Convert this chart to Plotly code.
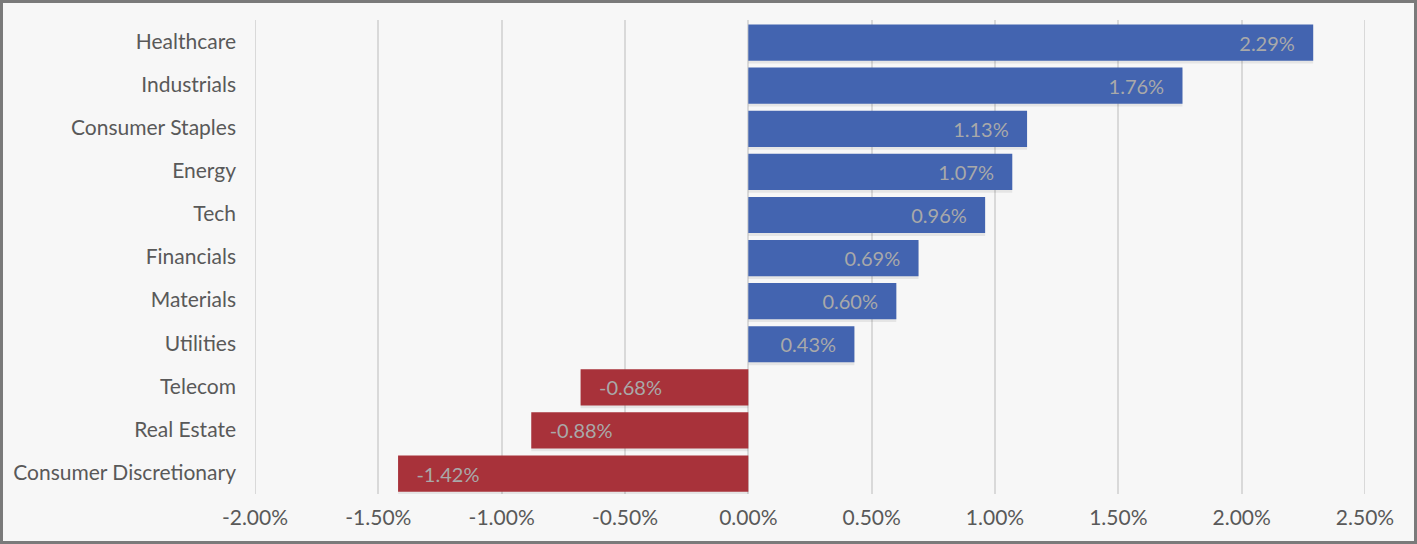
import plotly.graph_objects as go

categories = ["Healthcare", "Industrials", "Consumer Staples", "Energy", "Tech",
              "Financials", "Materials", "Utilities", "Telecom", "Real Estate",
              "Consumer Discretionary"]
values = [2.29, 1.76, 1.13, 1.07, 0.96, 0.69, 0.60, 0.43, -0.68, -0.88, -1.42]
tick_vals = [-2.0, -1.5, -1.0, -0.5, 0.0, 0.5, 1.0, 1.5, 2.0, 2.5]
tick_text = ["-2.00%", "-1.50%", "-1.00%", "-0.50%", "0.00%", "0.50%", "1.00%", "1.50%", "2.00%", "2.50%"]

POS = "#4364b0"
NEG = "#a8323a"
colors = [POS if v >= 0 else NEG for v in values]
nb = "\u00a0"
texts = [(f"{v:.2f}%" + nb * 3) if v >= 0 else (nb * 3 + f"{v:.2f}%") for v in values]

FONT = "Lato"
W, H = 1417, 544
ML, MR, MT, MB = 255, 52, 20, 50
PW, PH = W - ML - MR, H - MT - MB

fig = go.Figure()
# subtle drop shadow (below the bars)
fig.add_trace(go.Bar(
    y=categories, x=values, orientation="h",
    marker=dict(color="rgba(0,0,0,0.07)", line=dict(width=0)),
    width=0.86, offset=-0.51, hoverinfo="skip", showlegend=False,
))
fig.add_trace(go.Bar(
    y=categories, x=values, orientation="h",
    marker=dict(color=colors, line=dict(width=0)),
    width=0.84, offset=-0.445,
    text=texts, textposition="inside", insidetextanchor="end",
    textfont=dict(family=FONT, size=20, color="#a9a9a9"),
    textangle=0, showlegend=False,
))

fig.update_layout(
    width=W, height=H,
    paper_bgcolor="#f7f7f7", plot_bgcolor="#f7f7f7",
    margin=dict(l=ML, r=MR, t=MT, b=MB),
    barmode="overlay",
    font=dict(family=FONT, size=21, color="#595959"),
    xaxis=dict(range=[tick_vals[0], tick_vals[-1]], tickvals=tick_vals, ticktext=tick_text,
               showgrid=True, gridcolor="#d9d9d9", gridwidth=2,
               zeroline=False, showline=False, ticks="", ticklen=0,
               ticklabelstandoff=9,
               tickfont=dict(family=FONT, size=21, color="#595959")),
    yaxis=dict(categoryorder="array", categoryarray=categories[::-1],
               showgrid=False, zeroline=False, showline=False, ticks="",
               ticklabelstandoff=18,
               tickfont=dict(family=FONT, size=21, color="#595959"),
               range=[-0.5, len(categories) - 0.5]),
)
# edge gridlines (plotly omits gridlines at the range edges)
for tv in (tick_vals[0], tick_vals[-1]):
    fig.add_shape(type="line", xref="x", yref="paper", x0=tv, x1=tv, y0=0, y1=1,
                  line=dict(color="#d9d9d9", width=2), layer="below")
# outer border
fig.add_shape(type="rect", xref="paper", yref="paper",
              x0=-ML / PW, x1=1 + MR / PW, y0=-MB / PH, y1=1 + MT / PH,
              line=dict(color="#7a7a7a", width=6), layer="above")
fig.write_html("out.html", config={"displayModeBar": False},
               post_script="document.body.style.margin='0';document.body.style.overflow='hidden';")
